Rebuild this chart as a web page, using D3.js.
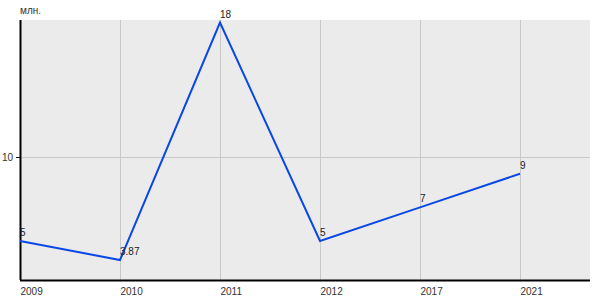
<!DOCTYPE html>
<html><head><meta charset="utf-8">
<script src="https://cdn.jsdelivr.net/npm/d3@7/dist/d3.min.js"></script>
<style>body{margin:0;background:#fff}svg{display:block;font-family:Arial,"Liberation Sans",sans-serif}</style>
</head><body><svg id="c" width="600" height="300"></svg>
<script>
const categories = ["2009","2010","2011","2012","2017","2021"];
const values = [5, 3.87, 18, 5, 7, 9];
const labels = ["5","3.87","18","5","7","9"];
const yTicks = [10];
const unit = "млн.";

const svg = d3.select("#c");
const L=20, T=20, R=590, B=280;
const x = d3.scalePoint().domain(categories).range([L, L+500]);
const y = d3.scaleLinear().domain([2.68, 18.15]).range([B, T]);

svg.append("rect").attr("x",L).attr("y",T).attr("width",R-L).attr("height",B-T).attr("fill","#ebebeb");
// grid
svg.append("g").selectAll("line").data(categories).join("line")
  .attr("x1",d=>x(d)+0.5).attr("x2",d=>x(d)+0.5).attr("y1",T).attr("y2",B)
  .attr("stroke","#c8c8c8").attr("stroke-width",1);
svg.append("g").selectAll("line").data(yTicks).join("line")
  .attr("x1",L).attr("x2",R).attr("y1",d=>Math.round(y(d))+0.5).attr("y2",d=>Math.round(y(d))+0.5)
  .attr("stroke","#c8c8c8").attr("stroke-width",1);

// axes
const yAxis = d3.axisLeft(y).tickValues(yTicks).tickSize(4).tickPadding(3).tickFormat(d3.format("d"));
const gy = svg.append("g").attr("transform",`translate(${L},0)`).call(yAxis);
gy.select(".domain").remove();
gy.selectAll("line").attr("stroke","#000");
gy.selectAll("text").attr("font-size",10).attr("fill","#333");
svg.append("line").attr("x1",L+0.5).attr("x2",L+0.5).attr("y1",T).attr("y2",B).attr("stroke","#000").attr("stroke-width",2);
svg.append("line").attr("x1",L).attr("x2",R).attr("y1",B+0.5).attr("y2",B+0.5).attr("stroke","#000").attr("stroke-width",2);

const xAxis = d3.axisBottom(x).tickSize(0).tickPadding(0);
const gx = svg.append("g").attr("transform",`translate(0,${B})`).call(xAxis);
gx.select(".domain").remove();
gx.selectAll("text").attr("text-anchor","start").attr("dy",0).attr("y",15).attr("font-size",10).attr("fill","#333");

// unit
svg.append("text").attr("x",L).attr("y",14).attr("font-size",10).attr("fill","#333").text(unit);

// line
const line = d3.line().x((d,i)=>x(categories[i])).y(d=>y(d));
svg.append("path").datum(values).attr("d",line).attr("fill","none").attr("stroke","#0a48e6").attr("stroke-width",2);

// point labels
svg.append("g").selectAll("text").data(values).join("text")
  .attr("x",(d,i)=>x(categories[i])).attr("y",d=>y(d)-5)
  .attr("font-size",10).attr("fill","#222").text((d,i)=>labels[i]);
</script></body></html>
